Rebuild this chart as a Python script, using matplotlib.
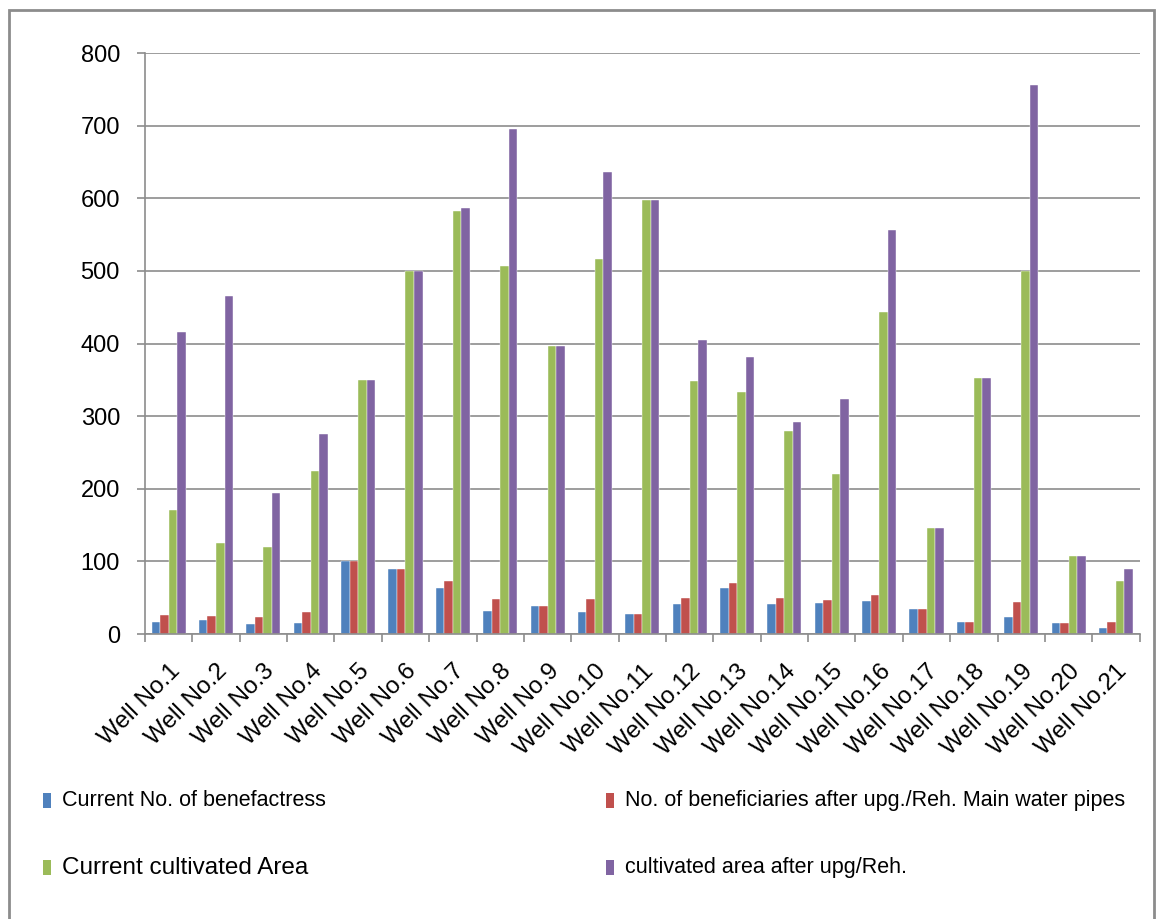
import numpy as np
import matplotlib.pyplot as plt
from matplotlib.patches import Rectangle

wells = ['Well No.%d' % i for i in range(1, 22)]
current_benef = [16, 19, 14, 15, 100, 90, 64, 32, 38, 31, 27, 42, 64, 42, 43, 45, 35, 17, 24, 15, 8]
benef_after = [26, 25, 23, 30, 100, 90, 73, 48, 38, 48, 27, 50, 70, 49, 47, 54, 35, 17, 44, 15, 16]
current_area = [171, 125, 120, 225, 350, 500, 582, 507, 397, 516, 598, 348, 333, 280, 220, 444, 146, 352, 500, 107, 73]
area_after = [416, 465, 194, 275, 350, 500, 587, 695, 397, 636, 598, 405, 382, 292, 323, 557, 146, 352, 756, 107, 90]

series = [current_benef, benef_after, current_area, area_after]
labels = ['Current No. of benefactress',
          'No. of beneficiaries after upg./Reh. Main water pipes',
          'Current cultivated Area',
          'cultivated area after upg/Reh.']
colors = ['#4f81bd', '#c0504d', '#9bbb59', '#8064a2']
legend_sizes = [15.5, 15.5, 17.5, 15.5]

plt.rcParams['font.family'] = ['Liberation Sans', 'DejaVu Sans']

fig = plt.figure(figsize=(11.57, 9.19), dpi=100)
ax = fig.add_axes([0.1253, 0.3101, 0.8597, 0.6322])

x = np.arange(len(wells))
w = 0.18
for i, vals in enumerate(series):
    ax.bar(x + (i - 1.5) * w, vals, w, color=colors[i], edgecolor='white', linewidth=0.3)

ax.set_xlim(-0.5, len(wells) - 0.5)
ax.set_ylim(0, 800)
ax.set_yticks(range(0, 801, 100))
ax.yaxis.grid(True, color='#8c8c8c', linewidth=1.2)
ax.set_axisbelow(True)

ax.set_xticks(x)
ax.set_xticklabels(wells, rotation=45, ha='right', rotation_mode='anchor', fontsize=17.5)
ax.set_xticks(np.arange(-0.5, len(wells), 1), minor=True)
ax.tick_params(axis='x', which='major', length=0, pad=19)
ax.tick_params(axis='x', which='minor', length=6, color='#8c8c8c', width=1.2)
ax.tick_params(axis='y', length=6, color='#8c8c8c', width=1.2, labelsize=17, pad=12)

for s in ['top', 'right']:
    ax.spines[s].set_visible(False)
for s in ['left', 'bottom']:
    ax.spines[s].set_color('#8c8c8c')
    ax.spines[s].set_linewidth(1.2)

# legend drawn as two columns
pos = [(0.037, 0.129), (0.524, 0.129), (0.037, 0.0555), (0.524, 0.0555)]
for i in range(4):
    px, py = pos[i]
    fig.patches.append(Rectangle((px, py - 0.008), 0.007, 0.0165, transform=fig.transFigure,
                                 facecolor=colors[i], edgecolor='none'))
    fig.text(px + 0.0165, py, labels[i], fontsize=legend_sizes[i], va='center', ha='left')

# outer frame
fig.patches.append(Rectangle((0.0075, -0.01), 0.99, 0.999, transform=fig.transFigure,
                             fill=False, edgecolor='#8c8c8c', linewidth=2))

fig.savefig('out.png', dpi=100)
